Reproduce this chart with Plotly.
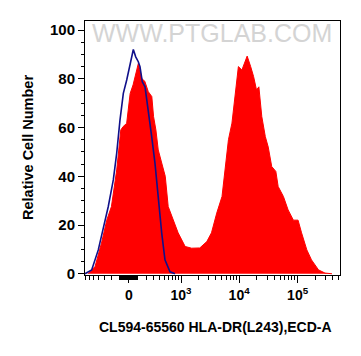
import math
import plotly.graph_objects as go

# ---- data (x in display units: decades on a biexponential scale, 0 = value 0) ----
sample_pos = [-0.70, -0.58, -0.47, -0.38, -0.30, -0.21, -0.14, -0.10, -0.04, 0.02,
              0.07, 0.13, 0.16, 0.22, 0.27, 0.33, 0.39, 0.42, 0.46, 0.50,
              0.56, 0.62, 0.67, 0.76, 0.84, 0.96, 1.07, 1.21, 1.33, 1.41,
              1.50, 1.59, 1.64, 1.70, 1.76, 1.81, 1.87, 1.93, 1.97, 2.02,
              2.08, 2.13, 2.18, 2.22, 2.27, 2.33, 2.38, 2.44, 2.51, 2.55,
              2.64, 2.72, 2.81, 2.89, 2.95, 3.04, 3.12, 3.24, 3.35, 3.47]
sample_count = [0, 3, 12.6, 22, 27.6, 42.6, 59, 60.4, 61.7, 74,
                77.5, 83.6, 86.3, 80, 79, 74.7, 72.7, 64.5, 59, 50.8,
                45.5, 40, 27.6, 22, 16.8, 11.2, 10.5, 10.6, 13.2, 16.8,
                24.9, 31.7, 42.6, 55, 61.8, 71.3, 85, 83.6, 86.3, 89.3,
                85, 80.9, 75.4, 76.7, 64.5, 56.3, 52, 44, 42, 35.8,
                31.7, 26.2, 22, 22, 16.8, 9.8, 5.7, 1.6, 0.3, 0]

control_pos = [-0.752, -0.638, -0.525, -0.439, -0.354, -0.268, -0.210, -0.154, -0.097, -0.039,
               0.017, 0.074, 0.115, 0.159, 0.188, 0.227, 0.274, 0.330, 0.388, 0.444,
               0.501, 0.559, 0.615, 0.701, 0.786]
control_count = [0, 1.6, 9.8, 19, 27.6, 38.5, 49.5, 63, 74, 79.5,
                 86.3, 92, 89, 87, 85, 78.8, 76.7, 67.2, 56.3, 45.4,
                 30.3, 16.8, 5.7, 0.8, 0]

major_values = [0, 1e3, 1e4, 1e5]
major_labels = ["0", "10<sup>3</sup>", "10<sup>4</sup>", "10<sup>5</sup>"]
y_ticks = [0, 20, 40, 60, 80, 100]

W = 262.0  # linear-region width of the biexponential display


def disp(v):
    return math.asinh(v / W) / math.log(10)


minor_values = ([-v for v in range(100, 800, 100)] + list(range(-90, 100, 10)) +
                list(range(200, 1000, 100)) + list(range(2000, 10000, 1000)) +
                list(range(20000, 100000, 10000)) + list(range(200000, 600000, 100000)))

x_range = [-0.752, 3.607]
minor_d = [disp(v) for v in minor_values if x_range[0] <= disp(v) <= x_range[1]]

fig = go.Figure()
fig.add_trace(go.Scatter(x=sample_pos, y=sample_count, mode="lines", fill="tozeroy",
                         line=dict(color="#ff0000", width=1), fillcolor="#ff0000",
                         hoverinfo="skip", showlegend=False))
fig.add_trace(go.Scatter(x=control_pos, y=control_count, mode="lines",
                         line=dict(color="#10108a", width=1.6),
                         hoverinfo="skip", showlegend=False))

bold = dict(family="Liberation Sans, Arial, sans-serif", color="black", weight="bold")

# the page body adds an 8px offset, so the figure is sized to compensate
fig.update_layout(
    width=345, height=340,
    margin=dict(l=77, r=13, t=13, b=73),
    paper_bgcolor="white", plot_bgcolor="white",
    xaxis=dict(range=x_range, showgrid=False, zeroline=False,
               showline=True, linecolor="black", linewidth=1, mirror=True,
               tickmode="array", tickvals=[disp(v) for v in major_values],
               ticktext=major_labels, ticks="outside", ticklen=7, tickwidth=1.2,
               tickcolor="black", tickfont=dict(size=14, **bold),
               minor=dict(tickmode="array", tickvals=minor_d, ticks="outside",
                          ticklen=4, tickwidth=1, tickcolor="black", showgrid=False)),
    yaxis=dict(range=[-0.5, 103.7], showgrid=False, zeroline=False,
               showline=True, linecolor="black", linewidth=1, mirror=True,
               tickmode="array", tickvals=y_ticks, ticks="outside", ticklen=6,
               tickwidth=1.2, tickcolor="black", tickfont=dict(size=15, **bold),
               minor=dict(dtick=5, ticks="outside", ticklen=3, tickwidth=1,
                          tickcolor="black", showgrid=False)),
    annotations=[
        dict(text="CL594-65560 HLA-DR(L243),ECD-A", xref="paper", yref="paper",
             x=0.51, y=0, yshift=-52, xanchor="center", yanchor="middle",
             showarrow=False, font=dict(size=14, **bold)),
        dict(text="Relative Cell Number", xref="paper", yref="paper",
             x=0, xshift=-57, y=0.5, xanchor="center", yanchor="middle",
             textangle=-90, showarrow=False, font=dict(size=14.5, **bold)),
        dict(text="WWW.PTGLAB.COM", xref="paper", yref="paper",
             x=0.497, y=1, yshift=-12, xanchor="center", yanchor="middle",
             showarrow=False,
             font=dict(size=25, family="Liberation Sans, Arial, sans-serif",
                       color="#d4d4d4")),
    ],
)

fig.write_html("out.html")
